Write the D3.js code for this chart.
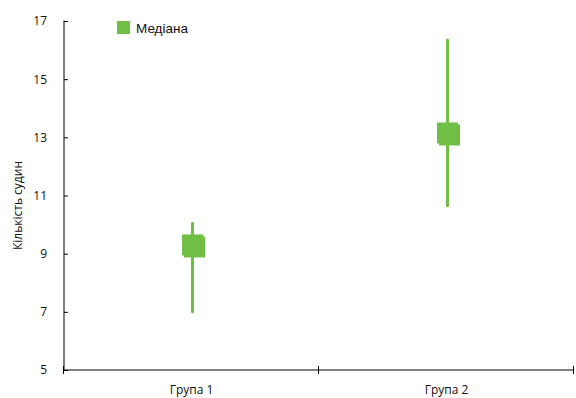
<html>
<head>
<meta charset="utf-8">
<script src="https://d3js.org/d3.v7.min.js"></script>
<style>
  body { margin: 0; background: #fff; }
  text { font-family: "Open Sans", sans-serif; font-size: 12px; fill: #111; }
</style>
</head>
<body></body>
<script>
const width = 576;
const height = 398;
const green = '#70bf44';

const groups = ['Група 1', 'Група 2'];
const medians = [9.3, 13.15];
const lows = [7.0, 10.65];
const highs = [10.05, 16.35];
const yTicks = [5, 7, 9, 11, 13, 15, 17];

const margin = {left: 64, right: 2, top: 21, bottom: 28};

const svg = d3.select('body')
    .append('svg')
        .attr('width', width)
        .attr('height', height);

const x = d3.scaleBand()
    .domain(groups)
    .range([margin.left, width - margin.right]);

const y = d3.scaleLinear()
    .domain([5, 17])
    .range([height - margin.bottom, margin.top]);

// y axis with ticks crossing the line
const yAxis = svg.append('g')
    .attr('transform', `translate(${margin.left},0)`)
    .call(d3.axisLeft(y).tickValues(yTicks).tickSize(4).tickPadding(13).tickSizeOuter(0));
yAxis.selectAll('.tick line').attr('x2', 4);
yAxis.select('.domain').attr('d', `M0,${y(5)}V${y(17) - 0.5}`);

// x axis, ticks at band edges
const xg = svg.append('g')
    .attr('transform', `translate(0,${y(5)})`);
xg.append('line')
    .attr('x1', margin.left).attr('x2', width - margin.right)
    .attr('stroke', '#000');
const edges = [x.range()[0]].concat(groups.map(g => x(g) + x.bandwidth()));
xg.selectAll('.xt')
    .data(edges)
    .enter()
    .append('line')
        .attr('x1', d => d - 0.5).attr('x2', d => d - 0.5)
        .attr('y1', -4).attr('y2', 4)
        .attr('stroke', '#000');
xg.selectAll('.xl')
    .data(groups)
    .enter()
    .append('text')
        .attr('x', d => x(d) + x.bandwidth() / 2)
        .attr('y', 24)
        .attr('text-anchor', 'middle')
        .text(d => d);

svg.selectAll('.domain, .tick line').attr('stroke', '#000');
yAxis.selectAll('text').style('font-size', '12px').style('font-family', '"Open Sans", sans-serif');

// axis title
svg.append('text')
    .attr('transform', `translate(22,${(y(5) + y(17)) / 2 + 10}) rotate(-90)`)
    .attr('text-anchor', 'middle')
    .text('Кількість судин');

// whiskers
svg.selectAll('.whisker')
    .data(groups)
    .enter()
    .append('line')
        .attr('x1', d => x(d) + x.bandwidth() / 2 + 1)
        .attr('x2', d => x(d) + x.bandwidth() / 2 + 1)
        .attr('y1', (d, i) => y(highs[i]))
        .attr('y2', (d, i) => y(lows[i]))
        .attr('stroke', green)
        .attr('stroke-width', 3)
        .attr('stroke-linecap', 'round');

// median markers (square plus small offset shadow)
const s = 21;
groups.forEach((g, i) => {
    const cx = x(g) + x.bandwidth() / 2 + 1;
    const cy = y(medians[i]);
    svg.append('rect')
        .attr('x', cx - s / 2 + 2).attr('y', cy - s / 2 + 2)
        .attr('width', s).attr('height', s)
        .attr('fill', green);
    svg.append('rect')
        .attr('x', cx - s / 2).attr('y', cy - s / 2)
        .attr('width', s).attr('height', s)
        .attr('fill', green);
});

// legend
svg.append('rect')
    .attr('x', 117).attr('y', 21)
    .attr('width', 13).attr('height', 13)
    .attr('fill', green);
svg.append('text')
    .attr('x', 136).attr('y', 33)
    .style('font-family', '"Liberation Sans", Arial, sans-serif')
    .style('font-size', '13.5px')
    .text('Медіана');
</script>
</html>
